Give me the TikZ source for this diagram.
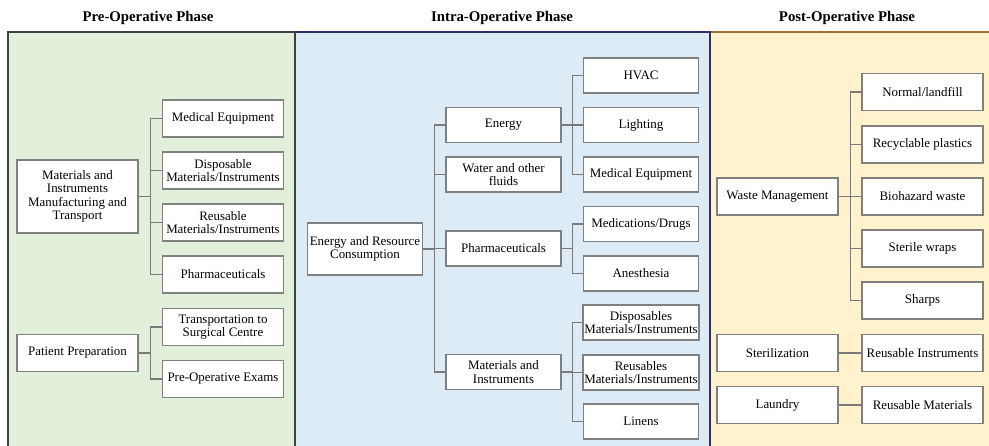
\documentclass[tikz,border=0pt]{standalone}
\usepackage{fontspec}
\setmainfont{Liberation Serif}
\definecolor{greenbg}{HTML}{E2EFDA}
\definecolor{bluebg}{HTML}{DDEBF7}
\definecolor{yellowbg}{HTML}{FFF2CC}
\definecolor{greenline}{HTML}{404040}
\definecolor{blueline}{HTML}{2E3166}
\definecolor{yellowline}{HTML}{9E7330}
\definecolor{boxgray}{HTML}{808080}
\definecolor{linkgray}{HTML}{7A7A7A}
\begin{document}
\begin{tikzpicture}[x=0.75pt,y=-0.75pt,
box/.style={draw=boxgray,fill=white,line width=1.1pt,inner sep=1pt,align=center,minimum width=90.75pt,minimum height=27.75pt,font=\fontsize{9.7}{10}\selectfont},
bbox/.style={box,minimum width=86.5pt,minimum height=26.5pt},
link/.style={draw=linkgray,line width=0.8pt},
phase/.style={font=\fontsize{11.1}{13}\selectfont\bfseries}]
\useasboundingbox (0,0) rectangle (989,446);
\clip (0,0) rectangle (989,446);
\fill[greenbg] (8,32) rectangle (295,452);
\fill[bluebg] (295,32) rectangle (710,452);
\fill[yellowbg] (710,32) rectangle (995,452);
\draw[yellowline,line width=1.5pt] (710,32) -- (995,32);
\draw[blueline,line width=1.5pt] (295,452) -- (295,32) -- (710,32) -- (710,452);
\draw[greenline,line width=1.5pt] (8,452) -- (8,32) -- (295,32) -- (295,452);
\node[phase] (pretitle) at (148,18) {Pre-Operative Phase};
\node[phase] (intratitle) at (502,18) {Intra-Operative Phase};
\node[phase] (posttitle) at (847,18) {Post-Operative Phase};
% pre-operative
\node[box,minimum height=54.75pt] (mimt) at (77.5,196.5) {Materials and\\Instruments\\Manufacturing and\\Transport};
\node[box] (premed) at (223,118.5) {Medical Equipment};
\node[box] (predisp) at (223,170.5) {Disposable\\Materials/Instruments};
\node[box] (prereus) at (223,222.5) {Reusable\\Materials/Instruments};
\node[box] (prepharm) at (223,274.5) {Pharmaceuticals};
\node[box] (patprep) at (77.5,353) {Patient Preparation};
\node[box] (transp) at (223,327) {Transportation to\\Surgical Centre};
\node[box] (exams) at (223,379) {Pre-Operative Exams};
\foreach \c in {premed,predisp,prereus,prepharm}
  \draw[link] (mimt.east) -- ++(12,0) |- (\c.west);
\foreach \c in {transp,exams}
  \draw[link] (patprep.east) -- ++(12,0) |- (\c.west);
% intra-operative
\node[bbox,minimum height=39pt] (erc) at (365,249) {Energy and Resource\\Consumption};
\node[bbox] (energy) at (503.5,125) {Energy};
\node[bbox] (water) at (503.5,174.5) {Water and other\\fluids};
\node[bbox] (intrapharm) at (503.5,248.5) {Pharmaceuticals};
\node[bbox] (matinst) at (503.5,372) {Materials and\\Instruments};
\node[bbox] (hvac) at (641,75.5) {HVAC};
\node[bbox] (light) at (641,125) {Lighting};
\node[bbox] (intramed) at (641,174.5) {Medical Equipment};
\node[bbox] (drugs) at (641,224) {Medications/Drugs};
\node[bbox] (anest) at (641,273.5) {Anesthesia};
\node[bbox] (intradisp) at (641,322.5) {Disposables\\Materials/Instruments};
\node[bbox] (intrareus) at (641,372.5) {Reusables\\Materials/Instruments};
\node[bbox] (linens) at (641,421.5) {Linens};
\foreach \c in {energy,water,intrapharm,matinst}
  \draw[link] (erc.east) -- ++(11,0) |- (\c.west);
\foreach \c in {hvac,light,intramed}
  \draw[link] (energy.east) -- ++(11,0) |- (\c.west);
\foreach \c in {drugs,anest}
  \draw[link] (intrapharm.east) -- ++(11,0) |- (\c.west);
\foreach \c in {intradisp,intrareus,linens}
  \draw[link] (matinst.east) -- ++(11,0) |- (\c.west);
% post-operative
\node[box] (waste) at (777.5,196.5) {Waste Management};
\node[box] (normal) at (922.5,92) {Normal/landfill};
\node[box] (recyc) at (922.5,144.5) {Recyclable plastics};
\node[box] (biohaz) at (922.5,196.5) {Biohazard waste};
\node[box] (wraps) at (922.5,248.5) {Sterile wraps};
\node[box] (sharps) at (922.5,300.5) {Sharps};
\node[box] (steril) at (777.5,353) {Sterilization};
\node[box] (reusinst) at (922.5,353) {Reusable Instruments};
\node[box] (laundry) at (777.5,405) {Laundry};
\node[box] (reusmat) at (922.5,405) {Reusable Materials};
\foreach \c in {normal,recyc,biohaz,wraps,sharps}
  \draw[link] (waste.east) -- ++(12,0) |- (\c.west);
\draw[link] (steril) -- (reusinst);
\draw[link] (laundry) -- (reusmat);
\end{tikzpicture}
\end{document}
